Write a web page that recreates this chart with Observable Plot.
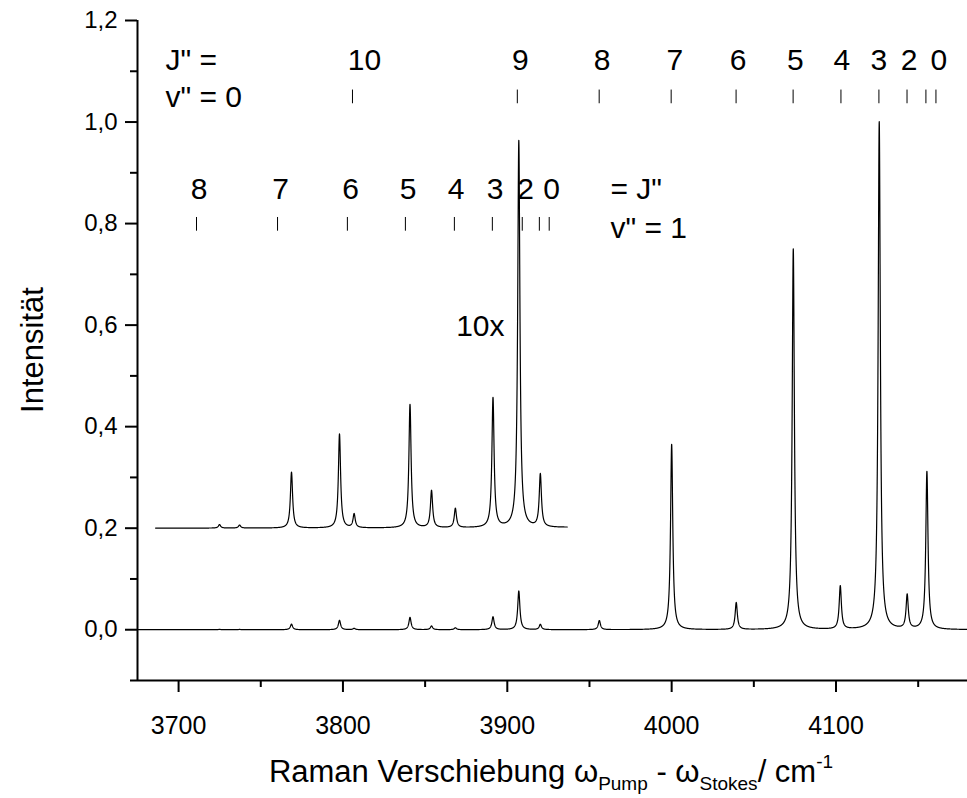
<!DOCTYPE html>
<html>
<head>
<meta charset="utf-8">
<script src="https://cdn.jsdelivr.net/npm/d3@7"></script>
<script src="https://cdn.jsdelivr.net/npm/@observablehq/plot@0.6"></script>
<style>
  html, body { margin: 0; padding: 0; background: #fff; }
  #chart { width: 967px; height: 798px; }
</style>
</head>
<body>
<div id="chart"></div>
<script>
// ---- Data ----
// Raman peak centres (cm^-1) and heights (normalised intensity)
const peakCenters = [3724.9, 3737.1, 3768.7, 3797.9, 3806.8, 3840.8, 3853.9, 3868.4, 3891.3, 3907.0, 3920.1, 3956.0, 4000.0, 4039.3, 4074.0, 4102.6, 4126.3, 4143.3, 4155.3];
const peakHeights = [0.0007, 0.0006, 0.011, 0.0185, 0.0027, 0.0243, 0.0073, 0.0038, 0.0255, 0.0762, 0.0104, 0.018, 0.365, 0.053, 0.75, 0.085, 1.0, 0.067, 0.311];
const peakHWHM = 0.8;           // Lorentzian half width (cm^-1)
const insetRange = [3686, 3936.5];
const insetFactor = 10;
const insetOffset = 0.2;

// v'' = 0 rotational line positions, J'' labels and label positions
const v0Positions = [3805.8, 3906.1, 3955.9, 3999.7, 4039.2, 4073.9, 4103.0, 4126.1, 4143.2, 4154.7, 4160.8];
const v0Labels    = ["10", "9", "8", "7", "6", "5", "4", "3", "2", "0"];
const v0LabelPos  = [3813.1, 3908.0, 3957.6, 4002.0, 4040.4, 4075.3, 4103.6, 4126.1, 4144.4, 4162.6];
// v'' = 1 rotational line positions, J'' labels and label positions
const v1Positions = [3710.9, 3760.2, 3802.7, 3838.0, 3867.8, 3890.9, 3909.1, 3919.5, 3925.5];
const v1Labels    = ["8", "7", "6", "5", "4", "3", "2", "0"];
const v1LabelPos  = [3712.4, 3762.0, 3804.6, 3839.6, 3868.8, 3892.5, 3911.1, 3926.9];

// axis ticks
const xTicks = [3700, 3800, 3900, 4000, 4100];
const xMinorTicks = [3750, 3850, 3950, 4050, 4150];
const yTicks = [0, 0.2, 0.4, 0.6, 0.8, 1.0, 1.2];
const yTickLabels = ["0,0", "0,2", "0,4", "0,6", "0,8", "1,0", "1,2"];
const yMinorTicks = [-0.1, 0.1, 0.3, 0.5, 0.7, 0.9, 1.1];

// ---- Spectrum (sum of Lorentzian lines at the peaks above) ----
function intensity(x) {
  let s = 0;
  for (let i = 0; i < peakCenters.length; i++) {
    const d = x - peakCenters[i];
    s += peakHeights[i] * peakHWHM * peakHWHM / (d * d + peakHWHM * peakHWHM);
  }
  return s;
}
const xs = d3.range(3675, 4180.0001, 0.05);
const mainSpectrum = xs.map(x => ({x, y: intensity(x)}));
const insetSpectrum = xs.filter(x => x >= insetRange[0] && x <= insetRange[1])
  .map(x => ({x, y: insetOffset + insetFactor * intensity(x)}));

const v0Labs = v0LabelPos.map((p, i) => ({x: p, label: v0Labels[i]}));
const v1Labs = v1LabelPos.map((p, i) => ({x: p, label: v1Labels[i]}));

const font = "'Liberation Sans', Arial, Helvetica, sans-serif";
const fs = 30;

const chart = Plot.plot({
  width: 967,
  height: 798,
  marginLeft: 137,
  marginRight: 0,
  marginTop: 20,
  marginBottom: 118,
  style: {fontFamily: font, background: "#fff", color: "#000"},
  x: {domain: [3675, 4180]},
  y: {domain: [-0.1, 1.2]},
  marks: [
    // spectra
    Plot.line(mainSpectrum, {x: "x", y: "y", stroke: "#000", strokeWidth: 1.2}),
    Plot.line(insetSpectrum, {x: "x", y: "y", stroke: "#000", strokeWidth: 1.2}),
    // v''=0 line markers
    Plot.ruleX(v0Positions, {x: d => d, y1: 1.036, y2: 1.063, stroke: "#000", strokeWidth: 1}),
    Plot.text(v0Labs, {x: "x", y: 1.122, text: "label", fontSize: fs, fill: "#000"}),
    Plot.text(["J\" ="], {x: 3692, y: 1.122, text: d => d, textAnchor: "start", fontSize: fs, fill: "#000"}),
    Plot.text(["v\" = 0"], {x: 3692, y: 1.048, text: d => d, textAnchor: "start", fontSize: fs, fill: "#000"}),
    // v''=1 line markers
    Plot.ruleX(v1Positions, {x: d => d, y1: 0.785, y2: 0.812, stroke: "#000", strokeWidth: 1}),
    Plot.text(v1Labs, {x: "x", y: 0.868, text: "label", fontSize: fs, fill: "#000"}),
    Plot.text(["= J\""], {x: 3962.8, y: 0.868, text: d => d, textAnchor: "start", fontSize: fs, fill: "#000"}),
    Plot.text(["v\" = 1"], {x: 3962.8, y: 0.79, text: d => d, textAnchor: "start", fontSize: fs, fill: "#000"}),
    Plot.text(["10x"], {x: 3898.3, y: 0.597, text: d => d, textAnchor: "end", fontSize: fs, fill: "#000"}),
    // axes
    Plot.axisX({ticks: xTicks, tickSize: 12, tickPadding: 24, fontSize: 25, strokeWidth: 2, label: null, tickFormat: d => String(d)}),
    Plot.axisX({ticks: xMinorTicks, tickSize: 7, strokeWidth: 2, label: null, text: null}),
    Plot.axisY({ticks: yTicks, tickSize: 12, tickPadding: 8, fontSize: 24, strokeWidth: 2, label: null,
      tickFormat: d => yTickLabels[yTicks.findIndex(t => Math.abs(t - d) < 1e-9)]}),
    Plot.axisY({ticks: yMinorTicks, tickSize: 7, strokeWidth: 2, label: null, text: null}),
    Plot.ruleY([-0.1], {stroke: "#000", strokeWidth: 2}),
    Plot.ruleX([3675], {stroke: "#000", strokeWidth: 2})
  ]
});

document.getElementById("chart").appendChild(chart);

// Axis titles (with sub/superscripts)
const svg = d3.select(chart);
svg.append("text")
  .attr("transform", "translate(43,350) rotate(-90)")
  .attr("text-anchor", "middle")
  .attr("font-family", font)
  .attr("font-size", 31)
  .attr("fill", "#000")
  .text("Intensität");

const xt = svg.append("text")
  .attr("x", 551)
  .attr("y", 782)
  .attr("text-anchor", "middle")
  .attr("font-family", font)
  .attr("font-size", 31)
  .attr("fill", "#000");
xt.append("tspan").text("Raman Verschiebung ω");
xt.append("tspan").attr("font-size", 19).attr("dy", 8).text("Pump");
xt.append("tspan").attr("dy", -8).text(" - ω");
xt.append("tspan").attr("font-size", 19).attr("dy", 8).text("Stokes");
xt.append("tspan").attr("dy", -8).text("/ cm");
xt.append("tspan").attr("font-size", 19).attr("dy", -14).text("-1");
</script>
</body>
</html>
